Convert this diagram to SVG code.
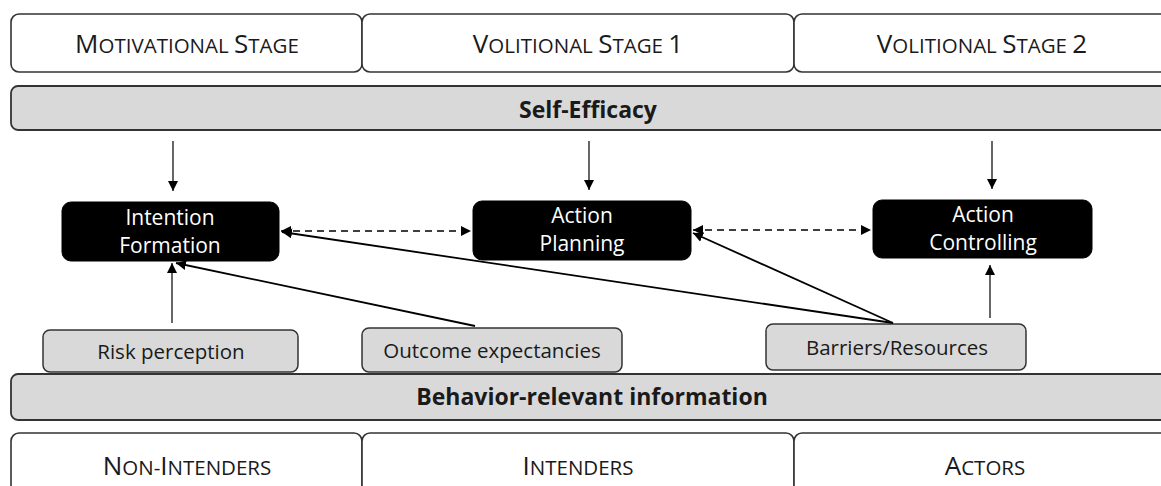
<svg xmlns="http://www.w3.org/2000/svg" width="1161" height="486" viewBox="0 0 1161 486">
<style>
.stage{fill:#fff;stroke:#333;stroke-width:1.6}
.bar{fill:#d9d9d9;stroke:#333;stroke-width:1.8}
.fac{fill:#d9d9d9;stroke:#333;stroke-width:1.5}
.blk{fill:#000;stroke:#000}
.t{font-family:"Open Sans","Liberation Sans",sans-serif;fill:#1a1a1a;text-anchor:middle}
.sc{font-size:26px}
.scs{font-size:20.5px}
.b{font-weight:bold;font-size:23px}
.w{fill:#fff;font-size:21px}
.f{font-size:20.5px}
.ln{stroke:#000;stroke-width:1.2;fill:none}
.ln2{stroke:#000;stroke-width:1.8;fill:none}
.ds{stroke:#000;stroke-width:1.6;stroke-dasharray:7,5;fill:none}
</style>
<defs>
<marker id="ah" viewBox="0 0 10 10" refX="10" refY="5" markerWidth="10" markerHeight="10" markerUnits="userSpaceOnUse" orient="auto-start-reverse">
<path d="M0,0 L10,5 L0,10 z" fill="#000"/>
</marker>
</defs>
<g id="stage-motivational">
<rect class="stage" x="11" y="14" width="351" height="58" rx="8"/>
<text class="t sc" x="187" y="53">M<tspan class="scs">OTIVATIONAL </tspan>S<tspan class="scs">TAGE</tspan></text>
</g>
<g id="stage-volitional1">
<rect class="stage" x="362" y="14" width="432" height="58" rx="8"/>
<text class="t sc" x="578" y="53">V<tspan class="scs">OLITIONAL </tspan>S<tspan class="scs">TAGE </tspan>1</text>
</g>
<g id="stage-volitional2">
<rect class="stage" x="794" y="14" width="380" height="58" rx="8"/>
<text class="t sc" x="982" y="53">V<tspan class="scs">OLITIONAL </tspan>S<tspan class="scs">TAGE </tspan>2</text>
</g>
<g id="self-efficacy">
<rect class="bar" x="11" y="86" width="1165" height="44" rx="7"/>
<text class="t b" x="588" y="118">Self-Efficacy</text>
</g>
<g id="intention-formation">
<rect class="blk" x="62" y="202" width="217" height="59" rx="9"/>
<text class="t w" x="170" y="225">Intention</text>
<text class="t w" x="170" y="253">Formation</text>
</g>
<g id="action-planning">
<rect class="blk" x="473" y="201" width="218" height="59" rx="9"/>
<text class="t w" x="582" y="223">Action</text>
<text class="t w" x="582" y="251">Planning</text>
</g>
<g id="action-controlling">
<rect class="blk" x="873" y="200" width="219" height="58" rx="9"/>
<text class="t w" x="983" y="222">Action</text>
<text class="t w" x="983" y="250">Controlling</text>
</g>
<g id="risk-perception">
<rect class="fac" x="43" y="330" width="255" height="42" rx="7"/>
<text class="t f" x="171" y="359">Risk perception</text>
</g>
<g id="outcome-expectancies">
<rect class="fac" x="362" y="328" width="260" height="44" rx="7"/>
<text class="t f" x="492" y="358">Outcome expectancies</text>
</g>
<g id="barriers-resources">
<rect class="fac" x="766" y="324" width="260" height="46" rx="7"/>
<text class="t f" x="897" y="355">Barriers/Resources</text>
</g>
<g id="behavior-info">
<rect class="bar" x="11" y="374" width="1165" height="46" rx="7"/>
<text class="t b" x="592" y="405">Behavior-relevant information</text>
</g>
<g id="non-intenders">
<rect class="stage" x="11" y="433" width="351" height="70" rx="8"/>
<text class="t sc" x="187" y="475">N<tspan class="scs">ON-</tspan>I<tspan class="scs">NTENDERS</tspan></text>
</g>
<g id="intenders">
<rect class="stage" x="362" y="433" width="432" height="70" rx="8"/>
<text class="t sc" x="578" y="475">I<tspan class="scs">NTENDERS</tspan></text>
</g>
<g id="actors">
<rect class="stage" x="794" y="433" width="380" height="70" rx="8"/>
<text class="t sc" x="985" y="475">A<tspan class="scs">CTORS</tspan></text>
</g>
<g id="connectors">
<line class="ln" x1="173" y1="141" x2="173" y2="191" marker-end="url(#ah)"/>
<line class="ln" x1="589" y1="141" x2="589" y2="190" marker-end="url(#ah)"/>
<line class="ln" x1="992" y1="141" x2="992" y2="189" marker-end="url(#ah)"/>
<line class="ds" x1="281" y1="231" x2="471" y2="231" marker-start="url(#ah)" marker-end="url(#ah)"/>
<line class="ds" x1="693" y1="230" x2="871" y2="230" marker-start="url(#ah)" marker-end="url(#ah)"/>
<line class="ln" x1="172" y1="323" x2="172" y2="263" marker-end="url(#ah)"/>
<line class="ln2" x1="475" y1="326" x2="176" y2="263" marker-end="url(#ah)"/>
<line class="ln2" x1="893" y1="323" x2="282" y2="232" marker-end="url(#ah)"/>
<line class="ln2" x1="893" y1="323" x2="693" y2="233" marker-end="url(#ah)"/>
<line class="ln" x1="990" y1="318" x2="990" y2="265" marker-end="url(#ah)"/>
</g>
</svg>
